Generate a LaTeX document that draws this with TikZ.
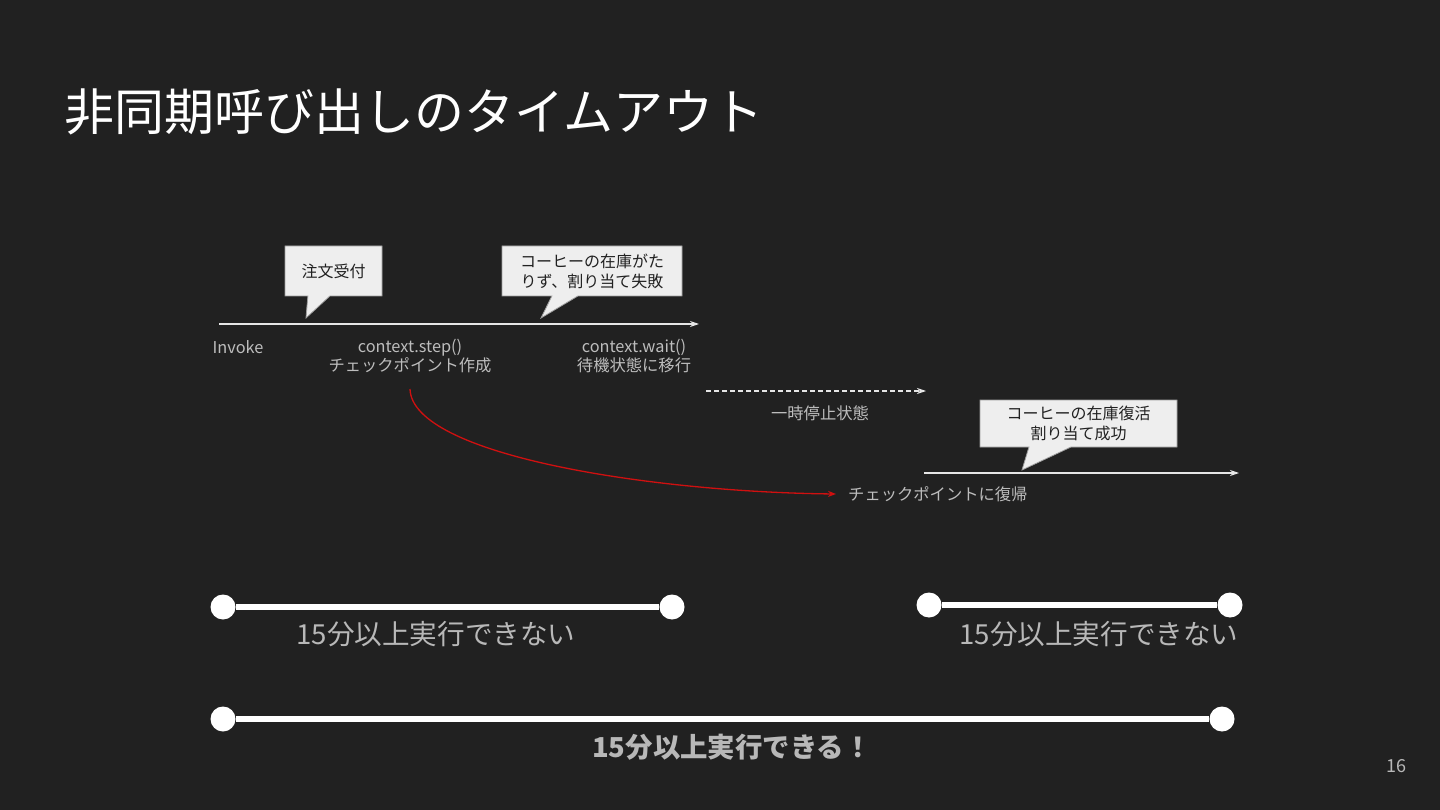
\documentclass[tikz,border=0pt]{standalone}
\usepackage{fontspec}
\setmainfont{Noto Sans CJK JP}
\usetikzlibrary{arrows.meta,shapes.callouts}
\definecolor{bg}{HTML}{212121}
\definecolor{lbl}{HTML}{BDBDBD}
\definecolor{callfill}{HTML}{EEEEEE}
\definecolor{callborder}{HTML}{9E9E9E}
\definecolor{calltext}{HTML}{212121}
\definecolor{linecol}{HTML}{E6E6E6}
\definecolor{redline}{HTML}{D01010}
\definecolor{bartext}{HTML}{B8B8B8}
\tikzset{
  callbox/.style={rectangle callout, fill=callfill, draw=callborder, line width=0.8pt,
    text=calltext, inner sep=0pt, align=center, font=\fontsize{16}{20}\selectfont},
  lab/.style={text=lbl, inner sep=0pt, align=center, font=\fontsize{16.3}{19}\selectfont},
  timeline/.style={draw=linecol, line width=1.3pt, -{Stealth[length=9pt,width=6pt]}},
  dot/.style={circle, fill=white, minimum size=25pt, inner sep=0pt},
  bar/.style={draw=white, line width=6pt},
  bartxt/.style={text=bartext, inner sep=0pt, font=\fontsize{27.6}{32}\selectfont},
}
\begin{document}
\begin{tikzpicture}[x=1pt,y=-1pt]
\fill[bg] (0,0) rectangle (1440,810);
\useasboundingbox (0,0) rectangle (1440,810);

% title
\node[anchor=base west, inner sep=0pt, text=white, font=\fontsize{50}{60}\selectfont] (title) at (64,131) {非同期呼び出しのタイムアウト};

% first timeline
\coordinate (a0) at (219,324);
\coordinate (a1) at (699,324);
\draw[timeline] (a0) -- (a1);

\node[callbox, minimum width=97pt, minimum height=50pt,
  callout absolute pointer={(306,318)}, callout pointer width=22pt] (c1) at (333.5,271) {注文受付};
\node[callbox, minimum width=180pt, minimum height=50pt,
  callout absolute pointer={(541,318)}, callout pointer width=26pt] (c2) at (592,271) {コーヒーの在庫がた\\りず、割り当て失敗};

\node[lab] (invoke) at (238,347) {Invoke};
\node[lab] (step) at (410,356.5) {context.step()\\チェックポイント作成};
\node[lab] (wait) at (634,356.5) {context.wait()\\待機状態に移行};

% paused
\coordinate (p0) at (706,391);
\coordinate (p1) at (926,391);
\draw[timeline, dashed, line width=1.2pt, dash pattern=on 5pt off 3pt] (p0) -- (p1);
\node[lab] (paused) at (820,413) {一時停止状態};

% second timeline
\coordinate (r0) at (924,473);
\coordinate (r1) at (1239,473);
\draw[timeline] (r0) -- (r1);
\node[callbox, minimum width=197pt, minimum height=47pt,
  callout absolute pointer={(1022,470)}, callout pointer width=42pt] (c3) at (1078.5,423.5) {コーヒーの在庫復活\\割り当て成功};

% resume
\node[lab, anchor=west, inner sep=0pt] (resume) at (848,494) {チェックポイントに復帰};
\coordinate (cp) at (410,389);
\coordinate (cpend) at (836,494);
\draw[redline, line width=1.3pt, -{Stealth[length=8pt,width=6pt]}] (cp) .. controls (412,455) and (650,492) .. (cpend);

% bars
\node[dot] (b1l) at (223,607) {};
\node[dot] (b1r) at (672,607) {};
\draw[bar] (b1l) -- (b1r);
\node[bartxt] (t1) at (436,634) {15分以上実行できない};

\node[dot] (b2l) at (929,605) {};
\node[dot] (b2r) at (1230,605) {};
\draw[bar] (b2l) -- (b2r);
\node[bartxt] (t2) at (1099,634) {15分以上実行できない};

\node[dot] (b3l) at (223,719) {};
\node[dot] (b3r) at (1222,719) {};
\draw[bar] (b3l) -- (b3r);
\node[bartxt, font=\fontsize{27.4}{32}\selectfont\bfseries] (t3) at (732,747) {15分以上実行できる！};

\node[text=bartext, inner sep=0pt, font=\fontsize{18}{22}\selectfont] (page) at (1396,766) {16};
\end{tikzpicture}
\end{document}
